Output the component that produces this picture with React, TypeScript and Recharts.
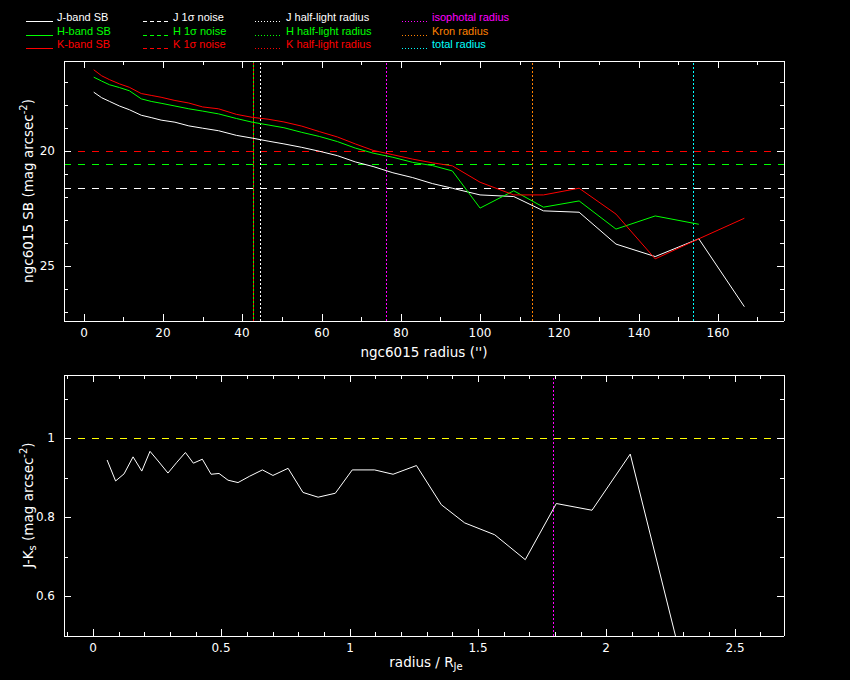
import { Line, LineChart, ReferenceLine, XAxis, YAxis } from "recharts";

// ---- surface brightness profiles (top panel) ----
const radius = [
  2.5, 4.5, 6.5, 9, 11.5, 14.5, 17, 19.5, 23, 26.5, 30, 34, 38.5, 42.5, 46.5, 50.5, 55, 59.5, 64, 68.5, 73, 78, 83,
  88, 93, 100, 108.5, 116, 125, 134.3, 144.2, 155.2, 166.7,
];
const jBand = [
  17.46, 17.7, 17.86, 18.06, 18.22, 18.46, 18.56, 18.67, 18.76, 18.92, 19.02, 19.13, 19.33, 19.45, 19.58, 19.7, 19.85,
  20.02, 20.21, 20.48, 20.68, 20.95, 21.16, 21.42, 21.62, 21.91, 21.98, 22.6, 22.66, 24.04, 24.58, 23.81, 26.75,
];
const hBand = [
  16.81, 16.98, 17.14, 17.26, 17.4, 17.75, 17.86, 17.94, 18.06, 18.18, 18.28, 18.4, 18.6, 18.76, 18.88, 19.0, 19.2,
  19.38, 19.6, 19.88, 20.1, 20.28, 20.5, 20.64, 20.87, 22.48, 21.73, 22.44, 22.17, 23.39, 22.82, 23.18, null,
];
const kBand = [
  16.49, 16.75, 16.92, 17.1, 17.25, 17.52, 17.6, 17.68, 17.82, 17.93, 18.1, 18.18, 18.42, 18.55, 18.63, 18.75, 18.93,
  19.17, 19.4, 19.7, 19.98, 20.17, 20.36, 20.52, 20.65, 21.36, 21.91, 21.91, 21.62, 22.74, 24.68, 23.81, 22.92,
];

// 1 sigma noise levels (J, H, K) and characteristic radii
const noiseLevels = [21.62, 20.61, 20.01];
const halfLight = [44.7, 42.7, 42.7];
const isophotalR = 76.3;
const kronR = 113.3;
const totalR = 153.8;

// ---- J-Ks colour profile (bottom panel) ----
const radiusRatio = [
  0.055, 0.088, 0.121, 0.156, 0.19, 0.222, 0.257, 0.292, 0.325, 0.36, 0.391, 0.426, 0.46, 0.491, 0.526, 0.565, 0.61,
  0.66, 0.701, 0.76, 0.818, 0.877, 0.944, 1.01, 1.097, 1.169, 1.26, 1.357, 1.448, 1.565, 1.684, 1.805, 1.944, 2.093,
  2.3,
];
const jkColour = [
  0.945, 0.892, 0.91, 0.953, 0.917, 0.967, 0.94, 0.912, 0.938, 0.964, 0.937, 0.947, 0.909, 0.911, 0.894, 0.888, 0.904,
  0.92, 0.906, 0.924, 0.863, 0.851, 0.861, 0.92, 0.92, 0.909, 0.931, 0.832, 0.786, 0.756, 0.693, 0.835, 0.818, 0.96,
  0.42,
];
const isophotalRatio = 1.795;

// ---- ticks ----
const sbXTicks = [0, 10, 20, 30, 40, 50, 60, 70, 80, 90, 100, 110, 120, 130, 140, 150, 160, 170];
const sbXMajor = [0, 20, 40, 60, 80, 100, 120, 140, 160];
const sbYTicks = [17, 18, 19, 20, 21, 22, 23, 24, 25, 26, 27];
const sbYMajor = [20, 25];
const jkXTicks = [-0.1, 0, 0.1, 0.2, 0.3, 0.4, 0.5, 0.6, 0.7, 0.8, 0.9, 1, 1.1, 1.2, 1.3, 1.4, 1.5, 1.6, 1.7, 1.8, 1.9, 2, 2.1, 2.2, 2.3, 2.4, 2.5, 2.6];
const jkXMajor = [0, 0.5, 1, 1.5, 2, 2.5];
const jkYTicks = [0.6, 0.7, 0.8, 0.9, 1, 1.1];
const jkYMajor = [0.6, 0.8, 1];

// ---- legend ----
const legendCols = [
  { labels: ["J-band SB", "H-band SB", "K-band SB"], dash: "none", x: 26, tx: 57 },
  { labels: ["J 1σ noise", "H 1σ noise", "K 1σ noise"], dash: "4 3", x: 143, tx: 173 },
  { labels: ["J half-light radius", "H half-light radius", "K half-light radius"], dash: "1 2", x: 255, tx: 286 },
  { labels: ["isophotal radius", "Kron radius", "total radius"], dash: "1 2", x: 402, tx: 432 },
];
const bandColours = ["#ffffff", "#00ff00", "#ff0000"];
const radiusColours = ["#ff00ff", "#ff8000", "#00ffff"];
const legendRows = [17, 31, 44];

const FONT = "'DejaVu Sans', sans-serif";
const LEGEND_FONT = "'Liberation Sans', sans-serif";
const W = 850;

const sbData = radius.map((r, i) => ({ r, j: jBand[i], h: hBand[i], k: kBand[i] }));
const jkData = radiusRatio.map((x, i) => ({ x, c: jkColour[i] }));

type Side = "bottom" | "top" | "left" | "right";
interface TickProps {
  x?: number;
  y?: number;
  payload?: { value: number };
}

// PGPLOT-style ticks: pointing into the frame, longer on labelled values
function makeTick(side: Side, majors: number[], showLabel: boolean) {
  return function Tick(p: TickProps) {
    const x = Math.round(p.x ?? 0);
    const y = Math.round(p.y ?? 0);
    const v = p.payload?.value ?? 0;
    const major = majors.includes(v);
    const len = major ? 7 : 4;
    let line;
    if (side === "bottom") line = <line x1={x} y1={y} x2={x} y2={y - len} />;
    else if (side === "top") line = <line x1={x} y1={y} x2={x} y2={y + len} />;
    else if (side === "left") line = <line x1={x} y1={y} x2={x + len} y2={y} />;
    else line = <line x1={x} y1={y} x2={x - len} y2={y} />;
    return (
      <g>
        <g stroke="#fff" strokeWidth={1} shapeRendering="crispEdges">
          {line}
        </g>
        {showLabel && major && side === "bottom" && (
          <text x={x} y={y + 12} fill="#fff" fontSize={12} fontFamily={FONT} textAnchor="middle" dominantBaseline="central">
            {String(v)}
          </text>
        )}
        {showLabel && major && side === "left" && (
          <text x={x - 9} y={y} fill="#fff" fontSize={12} fontFamily={FONT} textAnchor="end" dominantBaseline="central">
            {String(v)}
          </text>
        )}
      </g>
    );
  };
}

const axisLine = { stroke: "#fff", strokeWidth: 1, shapeRendering: "crispEdges" };

function SBPanel() {
  return (
    <LineChart width={W} height={360} data={sbData} margin={{ top: 60, right: 65, bottom: 38, left: 63 }}>
      <XAxis xAxisId="b" dataKey="r" type="number" domain={[-5, 176.7]} allowDataOverflow ticks={sbXTicks} interval={0}
        height={1} tickSize={0} tickMargin={0} tickLine={false} axisLine={axisLine} tick={makeTick("bottom", sbXMajor, true)} />
      <XAxis xAxisId="t" orientation="top" dataKey="r" type="number" domain={[-5, 176.7]} allowDataOverflow ticks={sbXTicks}
        interval={0} height={1} tickSize={0} tickMargin={0} tickLine={false} axisLine={axisLine} tick={makeTick("top", sbXMajor, false)} />
      <YAxis yAxisId="l" type="number" reversed domain={[16.11, 27.37]} allowDataOverflow ticks={sbYTicks} interval={0}
        width={1} tickSize={0} tickMargin={0} tickLine={false} axisLine={axisLine} tick={makeTick("left", sbYMajor, true)} />
      <YAxis yAxisId="r" orientation="right" type="number" reversed domain={[16.11, 27.37]} allowDataOverflow ticks={sbYTicks}
        interval={0} width={1} tickSize={0} tickMargin={0} tickLine={false} axisLine={axisLine} tick={makeTick("right", sbYMajor, false)} />
      {noiseLevels.map((lv, i) => (
        <ReferenceLine key={"n" + i} xAxisId="b" yAxisId="l" y={lv} stroke={bandColours[i]} strokeDasharray="7 7"
          shapeRendering="crispEdges" />
      ))}
      <ReferenceLine xAxisId="b" yAxisId="l" x={halfLight[0]} stroke={bandColours[0]} strokeDasharray="2 2" shapeRendering="crispEdges" />
      <ReferenceLine xAxisId="b" yAxisId="l" x={halfLight[2]} stroke={bandColours[2]} strokeDasharray="2 2" shapeRendering="crispEdges" />
      <ReferenceLine xAxisId="b" yAxisId="l" x={halfLight[1]} stroke={bandColours[1]} strokeDasharray="2 2" strokeDashoffset={2}
        shapeRendering="crispEdges" />
      <ReferenceLine xAxisId="b" yAxisId="l" x={isophotalR} stroke={radiusColours[0]} strokeDasharray="2 2" shapeRendering="crispEdges" />
      <ReferenceLine xAxisId="b" yAxisId="l" x={kronR} stroke={radiusColours[1]} strokeDasharray="2 2" shapeRendering="crispEdges" />
      <ReferenceLine xAxisId="b" yAxisId="l" x={totalR} stroke={radiusColours[2]} strokeDasharray="2 2" shapeRendering="crispEdges" />
      <Line xAxisId="b" yAxisId="l" type="linear" dataKey="j" stroke={bandColours[0]} strokeWidth={1} dot={false} isAnimationActive={false} />
      <Line xAxisId="b" yAxisId="l" type="linear" dataKey="h" stroke={bandColours[1]} strokeWidth={1} dot={false} isAnimationActive={false} />
      <Line xAxisId="b" yAxisId="l" type="linear" dataKey="k" stroke={bandColours[2]} strokeWidth={1} dot={false} isAnimationActive={false} />
    </LineChart>
  );
}

function ColourPanel() {
  return (
    <LineChart width={W} height={340} data={jkData} margin={{ top: 34, right: 65, bottom: 43, left: 63 }}>
      <XAxis xAxisId="b" dataKey="x" type="number" domain={[-0.113, 2.692]} allowDataOverflow ticks={jkXTicks} interval={0}
        height={1} tickSize={0} tickMargin={0} tickLine={false} axisLine={axisLine} tick={makeTick("bottom", jkXMajor, true)} />
      <XAxis xAxisId="t" orientation="top" dataKey="x" type="number" domain={[-0.113, 2.692]} allowDataOverflow ticks={jkXTicks}
        interval={0} height={1} tickSize={0} tickMargin={0} tickLine={false} axisLine={axisLine} tick={makeTick("top", jkXMajor, false)} />
      <YAxis yAxisId="l" type="number" domain={[0.5, 1.16]} allowDataOverflow ticks={jkYTicks} interval={0}
        width={1} tickSize={0} tickMargin={0} tickLine={false} axisLine={axisLine} tick={makeTick("left", jkYMajor, true)} />
      <YAxis yAxisId="r" orientation="right" type="number" domain={[0.5, 1.16]} allowDataOverflow ticks={jkYTicks}
        interval={0} width={1} tickSize={0} tickMargin={0} tickLine={false} axisLine={axisLine} tick={makeTick("right", jkYMajor, false)} />
      <ReferenceLine xAxisId="b" yAxisId="l" y={1} stroke="#ffff00" strokeDasharray="7 7" shapeRendering="crispEdges" />
      <ReferenceLine xAxisId="b" yAxisId="l" x={isophotalRatio} stroke={radiusColours[0]} strokeDasharray="2 2" shapeRendering="crispEdges" />
      <Line xAxisId="b" yAxisId="l" type="linear" dataKey="c" stroke="#ffffff" strokeWidth={1} dot={false} isAnimationActive={false} />
    </LineChart>
  );
}

function Overlay() {
  const txt = { fill: "#fff", fontSize: 13.5, fontFamily: FONT };
  return (
    <svg width={W} height={680} style={{ position: "absolute", left: 0, top: 0, pointerEvents: "none" }}>
      {legendCols.map((col, ci) =>
        col.labels.map((label, ri) => {
          const colour = ci === 3 ? radiusColours[ri] : bandColours[ri];
          const y = legendRows[ri];
          return (
            <g key={ci + "-" + ri}>
              <line x1={col.x} x2={col.x + 27} y1={y + 4} y2={y + 4} stroke={colour} strokeWidth={1}
                strokeDasharray={col.dash} shapeRendering="crispEdges" />
              <text x={col.tx} y={y} fill={colour} fontSize={11} fontFamily={LEGEND_FONT} dominantBaseline="central">
                {label}
              </text>
            </g>
          );
        }),
      )}
      <text x={424} y={352} {...txt} textAnchor="middle" dominantBaseline="central">
        ngc6015 radius ('')
      </text>
      <text transform="translate(28,191) rotate(-90)" {...txt} textAnchor="middle" dominantBaseline="central">
        ngc6015 SB (mag arcsec<tspan dy={-5} fontSize={10}>-2</tspan>
        <tspan dy={5}>)</tspan>
      </text>
      <text x={426} y={662} {...txt} textAnchor="middle" dominantBaseline="central">
        radius / R<tspan dy={4} fontSize={10}>Je</tspan>
      </text>
      <text transform="translate(28,505) rotate(-90)" {...txt} textAnchor="middle" dominantBaseline="central">
        J-K<tspan dy={4} fontSize={10}>s</tspan>
        <tspan dy={-4}> (mag arcsec</tspan>
        <tspan dy={-5} fontSize={10}>-2</tspan>
        <tspan dy={5}>)</tspan>
      </text>
    </svg>
  );
}

export default function App() {
  return (
    <div style={{ position: "absolute", left: 0, top: 0, width: W, height: 680, background: "#000", overflow: "hidden" }}>
      <div style={{ position: "absolute", left: 0, top: 0 }}>
        <SBPanel />
      </div>
      <div style={{ position: "absolute", left: 0, top: 340 }}>
        <ColourPanel />
      </div>
      <Overlay />
    </div>
  );
}
